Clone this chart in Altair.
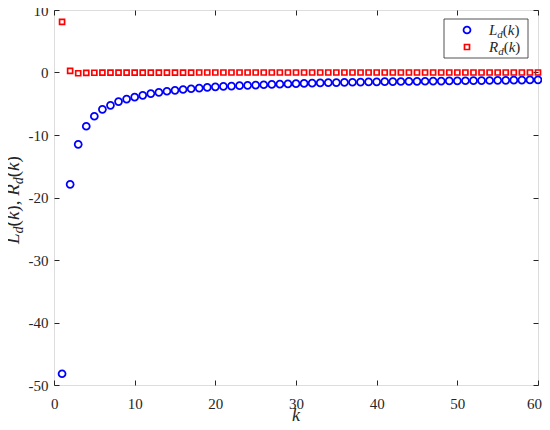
import altair as alt
import pandas as pd

# ---- data ----
k_vals = list(range(1, 61))
L_vals = [-48.2, -17.9, -11.5, -8.6, -7.0, -5.9, -5.25, -4.65, -4.25, -3.95,
          -3.65, -3.38, -3.18, -3.0, -2.85, -2.72, -2.6, -2.5, -2.39, -2.29,
          -2.23, -2.17, -2.11, -2.06, -2.01, -1.96, -1.91, -1.87, -1.83, -1.79,
          -1.75, -1.71, -1.67, -1.63, -1.61, -1.58, -1.56, -1.53, -1.51, -1.49,
          -1.47, -1.45, -1.44, -1.42, -1.41, -1.40, -1.38, -1.37, -1.35, -1.34,
          -1.32, -1.31, -1.29, -1.28, -1.26, -1.25, -1.23, -1.21, -1.19, -1.17]
R_vals = [8.1, 0.25, -0.12, -0.06, -0.04, -0.03, -0.03, -0.02, -0.02, -0.02,
          -0.01, -0.01, -0.01, -0.01, -0.01, -0.01, -0.01, 0.0, 0.0, 0.0,
          0.0, 0.0, 0.0, 0.0, 0.0, 0.0, 0.0, 0.0, 0.0, 0.0,
          0.0, 0.0, 0.0, 0.0, 0.0, 0.0, 0.0, 0.0, 0.0, 0.0,
          0.0, 0.0, 0.0, 0.0, 0.0, 0.0, 0.0, 0.0, 0.0, 0.0,
          0.0, 0.0, 0.0, 0.0, 0.0, 0.0, 0.0, 0.0, 0.0, 0.0]
x_ticks = [0, 10, 20, 30, 40, 50, 60]
y_ticks = [-50, -40, -30, -20, -10, 0, 10]

df = pd.DataFrame({"k": k_vals, "L": L_vals, "R": R_vals})

W, H = 484, 375
FONT = "Liberation Serif"
AX = "#262626"
BLUE = "#0000ff"
RED = "#ff0000"

xs = alt.Scale(domain=[0, 60], nice=False, zero=False)
ys = alt.Scale(domain=[-50, 10], nice=False, zero=False)
LBL = "'' + datum.value"

base = alt.Chart(df)

CIRC = dict(shape="circle", filled=False, color=BLUE, size=48, strokeWidth=1.8,
            opacity=1)
SQR = dict(shape="square", filled=False, color=RED, size=25, strokeWidth=1.7,
           opacity=1)

# main circles with labelled bottom / left axes
layer_L = base.mark_point(clip=False, **CIRC).encode(
    x=alt.X("k:Q", scale=xs, axis=alt.Axis(
        orient="bottom", values=x_ticks, ticks=False, domain=False, grid=False,
        labelFont=FONT, labelFontSize=15, labelColor=AX, labelPadding=11,
        labelFlush=True, labelFlushOffset=3.5, labelExpr=LBL, title=None)),
    y=alt.Y("L:Q", scale=ys, axis=alt.Axis(
        orient="left", values=y_ticks, ticks=False, domain=False, grid=False,
        labelFont=FONT, labelFontSize=15, labelColor=AX, labelPadding=6,
        labelFlush=False, labelExpr=LBL, title=None)),
)

# squares, with inward ticks on bottom and left
layer_R = base.mark_point(clip=False, **SQR).encode(
    x=alt.X("k:Q", scale=xs, axis=alt.Axis(
        orient="top", offset=-H, values=x_ticks, labels=False, ticks=True,
        tickSize=5, tickColor=AX, tickWidth=1, domain=False, grid=False, title=None)),
    y=alt.Y("R:Q", scale=ys, axis=alt.Axis(
        orient="right", offset=-W, values=y_ticks, labels=False, ticks=True,
        tickSize=5, tickColor=AX, tickWidth=1, domain=False, grid=False, title=None)),
)

# invisible copy giving inward ticks on top and right
layer_T = base.mark_point(opacity=0).encode(
    x=alt.X("k:Q", scale=xs, axis=alt.Axis(
        orient="bottom", offset=-H, values=x_ticks, labels=False, ticks=True,
        tickSize=5, tickColor=AX, tickWidth=1, domain=False, grid=False, title=None)),
    y=alt.Y("L:Q", scale=ys, axis=alt.Axis(
        orient="left", offset=-W, values=y_ticks, labels=False, ticks=True,
        tickSize=5, tickColor=AX, tickWidth=1, domain=False, grid=False, title=None)),
)

one = alt.Data(values=[{}])

# approximate glyph widths (em) for Times-like fonts
EM = {"L": 0.556, "R": 0.611, "d": 0.5, "k": 0.444, "(": 0.333, ")": 0.333,
      ",": 0.25, " ": 0.25}


def wid(s, size):
    return sum(EM[c] for c in s) * size


def math_pieces(size, sub):
    # (text, italic, fontsize, subscript)
    return [("L", True, size, False), ("d", True, sub, True),
            ("(", False, size, False), ("k", True, size, False),
            (")", False, size, False)]


texts = []

# x title: k
texts.append(alt.Chart(one).mark_text(
    text="k", font=FONT, fontSize=18, fontStyle="italic", align="center",
    baseline="alphabetic", color=AX).encode(x=alt.value(W / 2), y=alt.value(411)))

# y title: L_d(k), R_d(k) rotated
ysize, ysub = 19, 14
ypieces = (math_pieces(ysize, ysub) + [(", ", False, ysize, False)] +
           [("R", True, ysize, False), ("d", True, ysub, True),
            ("(", False, ysize, False), ("k", True, ysize, False),
            (")", False, ysize, False)])
pos = 234
for t, it, sz, sb in ypieces:
    texts.append(alt.Chart(one).mark_text(
        text=t, font=FONT, fontSize=sz, fontStyle="italic" if it else "normal",
        angle=270, align="left", baseline="alphabetic", color=AX).encode(
        x=alt.value(-35 + (4 if sb else 0)), y=alt.value(pos)))
    pos -= wid(t, sz)

# legend box
legend_box = alt.Chart(one).mark_rect(fill="white", stroke=AX, strokeWidth=0.8).encode(
    x=alt.value(390), x2=alt.value(474), y=alt.value(9), y2=alt.value(48))
leg_c = alt.Chart(one).mark_point(**CIRC).encode(x=alt.value(413), y=alt.value(20))
leg_s = alt.Chart(one).mark_point(**SQR).encode(x=alt.value(413), y=alt.value(37))

for name, base_y in (("L", 24.5), ("R", 41.5)):
    pcs = math_pieces(15, 11)
    pcs[0] = (name, True, 15, False)
    px = 435
    for t, it, sz, sb in pcs:
        texts.append(alt.Chart(one).mark_text(
            text=t, font=FONT, fontSize=sz, fontStyle="italic" if it else "normal",
            align="left", baseline="alphabetic", color=AX).encode(
            x=alt.value(px), y=alt.value(base_y + (3 if sb else 0))))
        px += wid(t, sz)

chart = alt.layer(layer_L, layer_R, layer_T, legend_box, leg_c, leg_s, *texts).resolve_axis(
    x="independent", y="independent"
).properties(
    width=W, height=H,
    autosize=alt.AutoSizeParams(type="none"),
    padding={"left": 46, "top": 2, "right": 4, "bottom": 38},
).configure_view(stroke=AX, strokeWidth=1.2).configure(background="white", font=FONT)

chart.save("out.html", embed_options={"renderer": "svg", "actions": False})
